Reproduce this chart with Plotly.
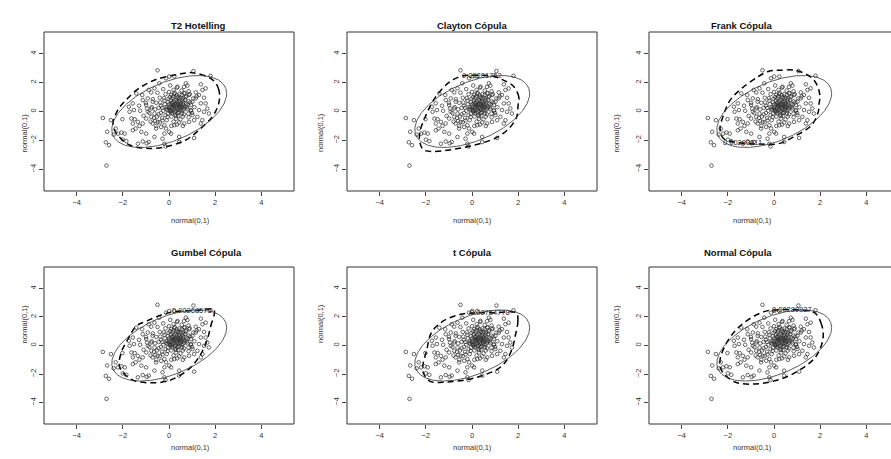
import numpy as np
import plotly.graph_objects as go

W, H = 891, 459

titles = ["T2 Hotelling", "Clayton Cópula", "Frank Cópula",
          "Gumbel Cópula", "t Cópula", "Normal Cópula"]

pts_x = [
    -0.50, -2.87, -2.52, -2.68, -2.74, -2.60, -2.71, -2.31, -2.21, -2.06, -1.92, -2.02, -1.71, -1.52,
    -1.63, -1.49, -1.35, -1.57, -1.28, -1.14, -1.57, -1.45, -1.20, -0.99, -1.14, -0.88, -0.63, -0.28,
    -1.35, -1.42, -1.16, -0.88, -0.77, -0.92, -1.14, -1.57, -1.74, -0.99, -0.71, -0.77, -0.92, -0.63,
    -0.77, -0.99, -0.49, -0.71, -0.34, -0.56, -0.13, 0.01, -0.20, -0.63, -0.42,
    1.06, 1.80, 1.38, 1.59, 1.45, 0.73, 0.80, 0.37, 0.23, 0.01, -0.13, 1.16, 1.30, 1.52, 1.16, 1.38,
    1.59, 1.66, 1.73, 1.52, 1.30, 1.23, 1.45, 1.38, 1.09, 0.87, 0.66, 0.44, 0.23, 0.09, 0.44, 1.09,
    0.44, -0.20, 0.87, 0.66, 1.02, 0.80, 0.95, 1.02, -0.15, -0.97, -2.00, -1.85, -2.40,
    0.05, 0.20, 0.35, 0.50, 0.15, -0.10, 0.30, 0.60, 0.45, 0.10, -0.20, -0.35, -0.05, 0.25, 0.55, 0.70,
    0.85, 0.40, 0.00, -0.25, -0.45, -0.60, -0.30, 0.10, 0.40, 0.65, 0.80, 0.95, 0.75, 0.55, 0.20, -0.15,
    -0.40, -0.55, -0.75, -0.85, -0.65, -0.40, -0.10, 0.20, 0.50, 0.30, 0.12, 0.42, 0.22, -0.02, 0.62,
    0.33, -0.18, 0.08, 0.48, 0.18, 0.70, 0.28, -0.08, 0.38, 0.58, 0.90, 1.05, 1.10, 1.00, 0.85, -0.50,
    -0.25, 0.05, 0.35, 0.65, -0.70, -1.00, -0.95, -1.10, -0.80, -0.55, -0.20, 0.10, 0.35, 0.60, -1.25,
    -1.30, -0.30, 0.45, 0.15, 0.55, 0.25, -0.05, 0.75, 0.35, 0.02, -0.15, 0.60, 0.30, -0.35, 0.85, 1.20,
    0.95, -0.45, -0.60, 0.12, 0.52, 0.00,
    0.15, 0.32, 0.48, 0.05, -0.12, 0.27, 0.62, 0.38, 0.18, -0.28, 0.52, 0.72, 0.08, 0.44, 0.26, -0.06,
    0.36, 0.58, 0.14, 0.66, -0.38, 0.92, 0.22, 0.46, 0.04, 0.30, 0.78, -0.22, 0.56, 0.10, 0.40, 0.68,
    -0.52, 0.24, 0.84, 0.50, 0.16, -0.02, 0.34, 0.60,
]
pts_y = [
    2.85, -0.45, -0.60, -1.40, -2.13, -2.33, -3.74, -1.18, -1.53, -1.46, -1.53, -0.53, -0.02, 0.10,
    -0.49, -0.53, -0.72, -0.83, -1.00, -0.83, -1.30, -1.18, -1.41, -1.53, -2.07, -2.11, -1.76, -1.88,
    -2.23, 1.25, 1.14, 1.49, 1.32, 0.91, 0.79, 0.56, 0.33, 0.45, 0.68, 0.21, -0.02, -0.14,
    -0.37, -0.49, -0.72, -0.83, -1.07, -1.18, -1.18, -1.41, -1.53, 1.60, 1.95,
    2.80, 2.47, 1.88, 1.60, 1.49, 1.95, 1.79, 1.72, 2.42, 2.42, 2.30, 1.32, 1.14, 0.95, 0.91, 0.56,
    0.56, 0.21, -0.14, -0.02, 0.10, -0.37, -0.60, -0.83, -0.60, -0.72, -0.83, -0.76, -0.95, -1.53, -1.76, -1.83,
    -2.11, -2.23, 1.14, 1.25, 0.68, 0.47, 0.10, -0.25, -2.42, -2.20, -1.95, -2.05, -1.60,
    0.10, 0.35, 0.20, 0.45, 0.60, 0.30, 0.80, 0.90, 1.20, 1.15, 0.75, 0.40, -0.15, -0.05, 0.05, 0.35,
    0.70, 0.55, 0.50, 0.05, -0.20, 0.15, -0.45, -0.35, -0.30, -0.20, 0.15, 0.45, 1.05, 1.45, 1.50, 1.20,
    0.95, 0.60, 0.30, -0.10, -0.45, -0.75, -0.60, -0.70, -0.55, 0.05, 0.22, 0.38, 0.72, 0.88, 0.62,
    1.00, 0.50, -0.05, 0.15, 0.45, 0.80, 0.28, 0.12, -0.12, 0.32, 1.20, 0.90, 0.30, -0.10, -0.40, 1.30,
    1.55, 1.80, 1.65, 1.70, 0.85, 0.60, 0.20, -0.30, -0.70, -1.00, -0.95, -1.00, -0.90, -1.00, 0.05,
    0.40, 0.25, 0.70, 0.90, 1.15, 1.30, 0.65, 0.55, 0.45, 0.35, -0.25, -0.35, -0.50, -0.10, 1.40, 1.05,
    0.05, 0.25, -0.65, 0.05, 0.95, 1.35,
    0.62, 0.52, 0.28, 0.02, 0.18, -0.22, 0.12, 0.95, 1.05, -0.62, 0.58, 0.98, 0.78, -0.05, 0.42, -0.38,
    0.68, 0.75, -0.12, 0.22, 0.62, 0.62, 1.22, 0.88, 1.00, -0.32, 0.28, 0.92, -0.12, 0.48, 0.12, 1.28,
    -0.35, 0.15, -0.15, 0.32, 0.32, 0.22, 1.12, 0.48,
]

# ---- T2 Hotelling 95% ellipse (solid), parameters ----
ell_center = (0.01, 0.0)
ell_sd = (1.0, 1.0)
ell_rho = 0.5
ell_r2 = 6.2

# ---- copula density contours (dashed) ----
t2_cx = [2.16, 2.16, 1.88, 1.02, 0.44, -0.56, -1.28, -1.85, -2.21, -2.43, -2.28, -1.71, -0.99, -0.13, 0.73, 1.30, 1.88]
t2_cy = [0.58, 1.51, 2.21, 2.68, 2.58, 2.21, 1.63, 0.82, 0.12, -0.81, -1.51, -2.32, -2.55, -2.44, -1.97, -1.28, -0.35]
clayton_cx = [2.00, 2.03, 1.80, 1.45, 0.90, 0.30, -0.45, -0.97, -1.40, -1.70, -2.05, -2.26, -2.26, -2.10, -1.69, -0.97, -0.24, 0.40, 1.06, 1.55, 1.92]
clayton_cy = [0.45, 1.00, 1.75, 2.10, 2.45, 2.50, 2.45, 2.05, 1.37, 0.70, -0.45, -1.41, -2.15, -2.65, -2.77, -2.66, -2.45, -2.20, -1.80, -1.25, -0.45]
frank_cx = [1.95, 1.99, 1.72, 1.00, 0.20, -0.25, -0.68, -1.40, -1.90, -2.19, -2.34, -2.20, -1.60, -0.60, 0.19, 0.91, 1.63, 1.92]
frank_cy = [0.50, 1.14, 2.20, 2.82, 2.85, 2.77, 2.42, 1.60, 0.79, -0.25, -1.18, -1.85, -2.15, -2.25, -2.23, -1.70, -0.95, -0.02]
gumbel_cx = [1.66, 1.81, 1.95, 1.20, 0.30, -0.28, -0.99, -1.42, -1.78, -2.07, -2.14, -1.63, -0.85, 0.01, 0.87, 1.38]
gumbel_cy = [0.44, 1.36, 2.51, 2.45, 2.38, 2.17, 1.70, 1.36, 0.44, -0.48, -1.52, -2.38, -2.61, -2.45, -1.64, -0.60]
t_cx = [1.85, 1.99, 1.92, 1.00, 0.20, -0.53, -1.26, -1.76, -1.97, -2.12, -2.12, -1.83, -1.11, -0.24, 0.33, 1.13, 1.49, 1.78]
t_cy = [0.50, 1.70, 2.28, 2.30, 2.28, 2.17, 1.70, 0.90, -0.37, -1.29, -1.87, -2.49, -2.56, -2.40, -2.17, -1.64, -1.07, -0.03]
normal_cx = [2.13, 2.06, 1.77, 1.00, 0.20, -0.39, -1.11, -1.69, -2.12, -2.34, -2.27, -1.69, -0.68, 0.33, 1.19, 1.84]
normal_cy = [0.55, 1.47, 2.28, 2.50, 2.50, 2.39, 1.82, 1.01, 0.00, -1.04, -1.76, -2.56, -2.68, -2.33, -1.64, -0.72]

contours = [(t2_cx, t2_cy), (clayton_cx, clayton_cy), (frank_cx, frank_cy),
            (gumbel_cx, gumbel_cy), (t_cx, t_cy), (normal_cx, normal_cy)]
contour_labels = ["", "0.00201752", "0.00290311", "0.00268575", "0.00754778", "0.00280827"]
label_xy = [None, (0.45, 2.47), (-1.35, -2.12), (1.0, 2.43), (0.8, 2.28), (0.8, 2.5)]

tick_vals = [-4, -2, 0, 2, 4]
axis_label = "normal(0,1)"

# ---- layout geometry (pixels) ----
col_px = [(44, 294), (347, 597), (649, 899)]
row_px = [(32, 191), (267, 424)]
title_y_px = [18, 253]
XR = (-5.42, 5.42)
YR = (-5.5, 5.5)

FONT = "Liberation Sans, Arial, sans-serif"
INK = "#2a2a2a"

# ellipse curve from parameters
t = np.linspace(0, 2 * np.pi, 241)
cov = np.array([[ell_sd[0] ** 2, ell_rho * ell_sd[0] * ell_sd[1]],
                [ell_rho * ell_sd[0] * ell_sd[1], ell_sd[1] ** 2]])
L = np.linalg.cholesky(cov)
circ = np.vstack([np.cos(t), np.sin(t)]) * np.sqrt(ell_r2)
ell = L @ circ
ell_x = ell[0] + ell_center[0]
ell_y = ell[1] + ell_center[1]

fig = go.Figure()
annotations = []
shapes = []

for i in range(6):
    r, c = divmod(i, 3)
    xa = "x" if i == 0 else f"x{i + 1}"
    ya = "y" if i == 0 else f"y{i + 1}"
    x0p, x1p = col_px[c]
    y0p, y1p = row_px[r]
    x1_vis = min(x1p, W)
    # range: panel 3 is cut by the image edge
    xr1 = XR[0] + (XR[1] - XR[0]) * (x1_vis - x0p) / (x1p - x0p)

    cx, cy = contours[i]
    fig.add_trace(go.Scatter(
        x=list(cx) + [cx[0]], y=list(cy) + [cy[0]], xaxis=xa, yaxis=ya, mode="lines",
        line=dict(color="black", width=1.5, dash="6px,4px", shape="spline", smoothing=1.0),
        hoverinfo="skip", showlegend=False))
    fig.add_trace(go.Scatter(
        x=ell_x, y=ell_y, xaxis=xa, yaxis=ya, mode="lines",
        line=dict(color="#333333", width=0.8), hoverinfo="skip", showlegend=False))
    fig.add_trace(go.Scatter(
        x=pts_x, y=pts_y, xaxis=xa, yaxis=ya, mode="markers",
        marker=dict(symbol="circle-open", size=3.6, color=INK, line=dict(width=0.7, color=INK)),
        hoverinfo="skip", showlegend=False))

    if contour_labels[i]:
        annotations.append(dict(
            x=label_xy[i][0], y=label_xy[i][1], xref=xa, yref=ya, text=contour_labels[i],
            showarrow=False, font=dict(family=FONT, size=7.5, color=INK)))

    dom_x = [x0p / W, x1_vis / W]
    dom_y = [1 - y1p / H, 1 - y0p / H]
    common = dict(showgrid=False, zeroline=False, showline=False, ticks="outside", ticklen=4,
                  tickwidth=0.8, tickcolor="#444444",
                  tickfont=dict(family=FONT, size=7.5, color="#333333"), tickvals=tick_vals)
    fig.layout[("xaxis" if i == 0 else f"xaxis{i + 1}")] = dict(
        domain=dom_x, range=[XR[0], xr1], anchor=ya, **common)
    fig.layout[("yaxis" if i == 0 else f"yaxis{i + 1}")] = dict(
        domain=dom_y, range=list(YR), anchor=xa, tickangle=-90, **common)

    # plot box (right side of the last column lies outside the image)
    xl, xrp = x0p / W, x1_vis / W
    yb, yt = 1 - y1p / H, 1 - y0p / H
    box_lines = [(xl, yb, xrp, yb), (xl, yt, xrp, yt), (xl, yb, xl, yt)]
    if x1p <= W:
        box_lines.append((xrp, yb, xrp, yt))
    for (a, b, cc, d) in box_lines:
        shapes.append(dict(type="line", xref="paper", yref="paper", x0=a, y0=b, x1=cc, y1=d,
                           line=dict(color="#333333", width=1)))

    xc = (x0p + x1p) / 2 / W
    annotations.append(dict(x=xc, y=1 - title_y_px[r] / H, xref="paper", yref="paper",
                            text=f"<b>{titles[i]}</b>", showarrow=False,
                            font=dict(family=FONT, size=9.5, color="#111111")))
    annotations.append(dict(x=xc, y=1 - (y1p + 30) / H, xref="paper", yref="paper",
                            text=axis_label, showarrow=False,
                            font=dict(family=FONT, size=7.5, color="#333333")))
    annotations.append(dict(x=(x0p - 27) / W, y=1 - (y0p + y1p) / 2 / H, xref="paper", yref="paper",
                            text=axis_label, showarrow=False, textangle=-90,
                            font=dict(family=FONT, size=7.5, color="#333333")))

fig.update_layout(width=W, height=H, margin=dict(l=0, r=0, t=0, b=0),
                  paper_bgcolor="white", plot_bgcolor="white",
                  annotations=annotations, shapes=shapes, showlegend=False)

fig.write_html("out.html", config={"displayModeBar": False},
               post_script="document.body.style.margin='0';document.body.style.overflow='hidden';")
